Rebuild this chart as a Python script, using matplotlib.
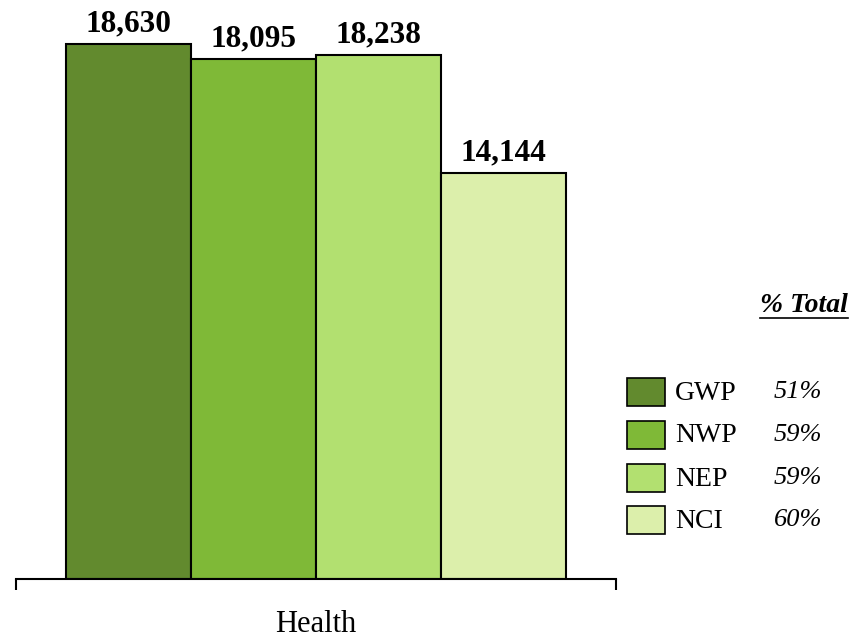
import matplotlib
matplotlib.use("Agg")
import matplotlib.pyplot as plt
from matplotlib.patches import Rectangle
from matplotlib.lines import Line2D

# Data
category = "Health"
series = ["GWP", "NWP", "NEP", "NCI"]
values = [18630, 18095, 18238, 14144]
pct_total = ["51%", "59%", "59%", "60%"]
colors = ["#628A2E", "#7FB937", "#B2E070", "#DCEFAB"]

W, H = 863, 637
fig = plt.figure(figsize=(W / 100, H / 100), dpi=100)
plt.rcParams["font.family"] = ["Liberation Serif", "DejaVu Serif"]

ax = fig.add_axes([16 / W, (H - 579) / H, 600 / W, 579 / H])
ax.set_xlim(-0.5, 0.5)
ax.set_ylim(0, 20160)

bw = 125 / 600
n = len(series)
for i, (s, v, c) in enumerate(zip(series, values, colors)):
    x = (i - (n - 1) / 2) * bw
    ax.bar(x, v, width=bw, color=c, edgecolor="black", linewidth=1.5, zorder=2)
    ax.annotate(f"{v:,}", (x, v), xytext=(0, 4), textcoords="offset points",
                ha="center", va="bottom", fontsize=22.5, fontweight="bold",
                annotation_clip=False)

for sp in ["left", "right", "top"]:
    ax.spines[sp].set_visible(False)
ax.spines["bottom"].set_linewidth(1.5)
ax.set_yticks([])
ax.set_xticks([0])
ax.set_xticklabels([category], fontsize=22)
ax.tick_params(axis="x", which="major", length=0, pad=22)
ax.set_xticks([-0.5, 0.5], minor=True)
ax.tick_params(axis="x", which="minor", length=8, width=1.5, direction="out")

# Legend with share of total
def fx(px):
    return px / W

def fy(py):
    return 1 - py / H

hdr = fig.text(fx(848), fy(305), "% Total", ha="right", va="center",
               fontsize=20, fontweight="bold", fontstyle="italic")
fig.canvas.draw()
bb = hdr.get_window_extent()
fig.add_artist(Line2D([bb.x0 / W, bb.x1 / W], [fy(318), fy(318)],
                      transform=fig.transFigure, color="black", linewidth=1.2))

row_y = [392, 435, 478, 520]
for s, p, c, yc in zip(series, pct_total, colors, row_y):
    fig.add_artist(Rectangle((fx(627), fy(yc + 14)), 38 / W, 28 / H,
                             transform=fig.transFigure, facecolor=c,
                             edgecolor="black", linewidth=1.2))
    fig.text(fx(675), fy(yc + 1), s, ha="left", va="center", fontsize=20)
    fig.text(fx(822), fy(yc), p, ha="right", va="center", fontsize=19,
             fontstyle="italic")

fig.savefig("out.png", dpi=100, facecolor="white")
